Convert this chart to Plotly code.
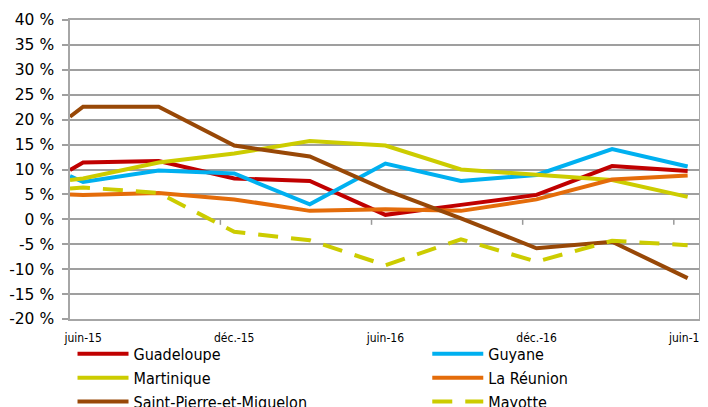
import plotly.graph_objects as go

# x positions in months relative to juin-15 (first value is at the axis' left edge)
months = [-0.52, 0, 3, 6, 9, 12, 15, 18, 21, 24]
tick_pos = [0, 6, 12, 18, 24]
tick_labels = ["juin-15", "déc.-15", "juin-16", "déc.-16", "juin-17"]

guadeloupe = [9.9, 11.4, 11.7, 8.2, 7.7, 0.9, 2.9, 4.9, 10.7, 9.7]
guyane = [8.7, 7.5, 9.8, 9.2, 3.0, 11.2, 7.7, 8.9, 14.1, 10.6]
martinique = [7.9, 8.2, 11.4, 13.2, 15.7, 14.8, 10.0, 8.9, 7.9, 4.5]
la_reunion = [5.0, 4.9, 5.3, 4.0, 1.7, 2.0, 1.7, 4.0, 8.0, 8.8]
spm = [20.6, 22.6, 22.6, 14.8, 12.6, 5.9, 0.2, -5.8, -4.5, -11.8]
mayotte = [6.2, 6.4, 5.3, -2.5, -4.2, -9.2, -4.0, -8.5, -4.3, -5.2]

y_vals = list(range(-20, 45, 5))
y_text = [f"{v} %" for v in y_vals]

series = [
    ("Guadeloupe", guadeloupe, "#C00000", "solid", "legend"),
    ("Guyane", guyane, "#00B0F0", "solid", "legend2"),
    ("Martinique", martinique, "#CCCC00", "solid", "legend"),
    ("La Réunion", la_reunion, "#E46C0A", "solid", "legend2"),
    ("Saint-Pierre-et-Miquelon", spm, "#984807", "solid", "legend"),
    ("Mayotte", mayotte, "#CCCC00", "20px,13px", "legend2"),
]

FONT = "'DejaVu Sans Condensed', 'Liberation Sans Narrow', 'DejaVu Sans', sans-serif"
YFONT = "'DejaVu Sans', Verdana, sans-serif"

fig = go.Figure()
for name, vals, color, dash, leg in series:
    fig.add_trace(go.Scatter(x=months, y=vals, name=name, mode="lines", legend=leg,
                             line=dict(color=color, width=4, dash=dash)))

# x-axis tick marks crossing at 0 %
minor_ticks = [p - 0.55 for p in tick_pos[1:]]
for t in minor_ticks:
    fig.add_shape(type="line", xref="x", yref="y", x0=t, x1=t, y0=0, y1=-1.1,
                  line=dict(color="#9a9a9a", width=1.5))
fig.add_shape(type="line", xref="paper", yref="y", x0=0, x1=1, y0=0, y1=0,
              line=dict(color="#9a9a9a", width=1.5), layer="below")

leg_common = dict(orientation="v", yanchor="top", y=-0.06, tracegroupgap=0,
                  font=dict(size=16, family=FONT), bgcolor="rgba(0,0,0,0)",
                  itemwidth=51)

# page has an 8px body margin: figure is sized/offset to compensate
fig.update_layout(
    width=700, height=399,
    margin=dict(l=62, r=9, t=12, b=88, autoexpand=False),
    paper_bgcolor="white", plot_bgcolor="white",
    font=dict(family=FONT, color="#000000"),
    showlegend=True,
    legend=dict(x=0.004, xanchor="left", **leg_common),
    legend2=dict(x=0.568, xanchor="left", **leg_common),
    xaxis=dict(range=[-0.52, 24.45], tickvals=tick_pos, ticktext=tick_labels,
               showgrid=False, zeroline=False, showline=True, linecolor="#a6a6a6",
               linewidth=1.5, mirror=True, ticks="", ticklabelstandoff=7,
               tickfont=dict(size=12, family=FONT)),
    yaxis=dict(range=[-20, 40], tickvals=y_vals, ticktext=y_text,
               showgrid=True, gridcolor="#9f9f9f", gridwidth=1.5, zeroline=False,
               showline=True, linecolor="#a6a6a6", linewidth=1.5, mirror=True,
               ticks="outside", ticklen=6, tickcolor="#9f9f9f", tickwidth=1.5,
               ticklabelstandoff=5, tickfont=dict(size=15.5, family=YFONT)),
)

fig.write_html("out.html")
